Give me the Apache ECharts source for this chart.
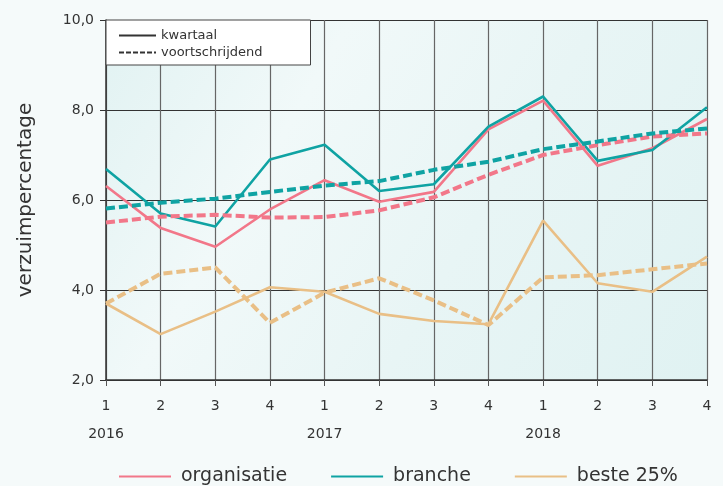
<!DOCTYPE html>
<html>
<head>
<meta charset="utf-8">
<script src="https://cdn.jsdelivr.net/npm/echarts@6/dist/echarts.min.js"></script>
<style>
  html, body { margin: 0; padding: 0; background: #f5fafa; }
  #mChart { width: 723px; height: 486px; }
</style>
</head>
<body>
<div id="mChart"></div>
<script>
  // kwartalen en jaren op de x-as
  var quarters = ['1', '2', '3', '4', '1', '2', '3', '4', '1', '2', '3', '4'];
  var years = ['2016', '', '', '', '2017', '', '', '', '2018', '', '', ''];
  var yTicks = [2, 4, 6, 8, 10];

  // verzuimpercentage per kwartaal
  var organisatieKwartaal = [6.31, 5.38, 4.96, 5.79, 6.44, 5.96, 6.18, 7.57, 8.21, 6.76, 7.15, 7.80];
  var brancheKwartaal = [6.69, 5.70, 5.41, 6.90, 7.23, 6.20, 6.35, 7.63, 8.30, 6.87, 7.11, 8.06];
  var besteKwartaal = [3.70, 3.02, 3.52, 4.06, 3.96, 3.47, 3.31, 3.24, 5.54, 4.15, 3.96, 4.74];

  // voortschrijdend gemiddelde
  var organisatieVoort = [5.50, 5.63, 5.67, 5.61, 5.62, 5.77, 6.06, 6.56, 7.00, 7.22, 7.41, 7.48];
  var brancheVoort = [5.81, 5.94, 6.03, 6.18, 6.32, 6.42, 6.67, 6.85, 7.13, 7.30, 7.48, 7.59];
  var besteVoort = [3.70, 4.36, 4.50, 3.27, 3.94, 4.26, 3.77, 3.22, 4.28, 4.33, 4.46, 4.59];

  var pink = '#f27789';
  var teal = '#0fa3a3';
  var tan = '#e9bf86';
  var dash = [9, 4];

  function solid(name, color, data) {
    return {
      name: name, type: 'line', data: data, symbol: 'none', color: color,
      lineStyle: { width: 2.6, color: color }, z: 3
    };
  }
  function dashed(name, color, data) {
    return {
      name: name, type: 'line', data: data, symbol: 'none', color: color,
      lineStyle: { width: 4, color: color, type: dash }, z: 4
    };
  }

  var myChart = echarts.init(document.getElementById('mChart'));
  myChart.setOption({
    animation: false,
    backgroundColor: '#f5fafa',
    textStyle: { fontFamily: 'DejaVu Sans', color: '#333' },
    grid: {
      left: 106, right: 16, top: 20, bottom: 106,
      show: true, borderWidth: 0,
      backgroundColor: {
        type: 'linear', x: 0, y: 0, x2: 1, y2: 1,
        colorStops: [
          { offset: 0, color: '#e1f2f2' },
          { offset: 0.3, color: '#f1f9f9' },
          { offset: 0.6, color: '#e8f5f5' },
          { offset: 1, color: '#e0f2f2' }
        ]
      }
    },
    legend: [
      {
        data: ['organisatie', 'branche', 'beste 25%'],
        top: 462, left: 113,
        itemWidth: 52, itemHeight: 14, itemGap: 43,
        itemStyle: { opacity: 0 },
        textStyle: { fontSize: 19, color: '#333', fontFamily: 'DejaVu Sans', padding: [0, 0, 0, 5] }
      },
      {
        data: ['kwartaal', 'voortschrijdend'],
        orient: 'vertical', left: 106, top: 20,
        backgroundColor: '#fff', borderColor: '#444', borderWidth: 1, borderRadius: 0,
        padding: [9, 48, 6, 12],
        itemWidth: 37, itemHeight: 14, itemGap: 4,
        itemStyle: { opacity: 0 },
        textStyle: { fontSize: 13, color: '#333', fontFamily: 'DejaVu Sans' }
      }
    ],
    xAxis: {
      type: 'category',
      boundaryGap: false,
      data: quarters,
      axisLine: { lineStyle: { color: '#333', width: 1.5 } },
      axisTick: { show: true, length: 6, lineStyle: { color: '#555' } },
      splitLine: { show: true, lineStyle: { color: '#666', width: 1.2 } },
      axisLabel: {
        fontSize: 14, color: '#333', lineHeight: 14, margin: 19,
        formatter: function (v, i) { return v + '\n\n' + years[i]; }
      }
    },
    yAxis: {
      type: 'value', min: yTicks[0], max: yTicks[yTicks.length - 1], interval: 2,
      name: 'verzuimpercentage', nameLocation: 'middle', nameRotate: 90, nameGap: 70,
      nameTextStyle: { fontSize: 20, color: '#333' },
      axisLine: { show: true, lineStyle: { color: '#333', width: 1.5 } },
      axisTick: { show: true, length: 6, lineStyle: { color: '#333' } },
      splitLine: { show: true, lineStyle: { color: '#333', width: 1.2 } },
      axisLabel: {
        fontSize: 14, color: '#333', margin: 12,
        formatter: function (v) { return v.toFixed(1).replace('.', ','); }
      }
    },
    series: [
      solid('organisatie', pink, organisatieKwartaal),
      solid('branche', teal, brancheKwartaal),
      solid('beste 25%', tan, besteKwartaal),
      dashed('organisatie', pink, organisatieVoort),
      dashed('branche', teal, brancheVoort),
      dashed('beste 25%', tan, besteVoort),
      { name: 'kwartaal', type: 'line', data: [], symbol: 'none', color: '#333',
        lineStyle: { width: 2, color: '#333' } },
      { name: 'voortschrijdend', type: 'line', data: [], symbol: 'none', color: '#333',
        lineStyle: { width: 3, color: '#333', type: [5, 2] } }
    ]
  });
</script>
</body>
</html>
